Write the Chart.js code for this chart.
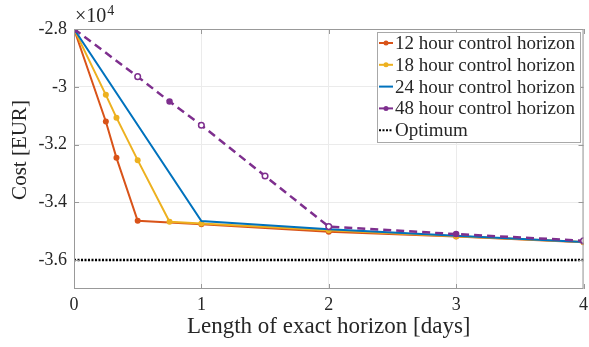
<!DOCTYPE html>
<html>
<head>
<meta charset="utf-8">
<script src="https://cdn.jsdelivr.net/npm/chart.js@4"></script>
<style>
  html, body { margin: 0; padding: 0; background: #fff; }
  #wrap { width: 589px; height: 347px; }
</style>
</head>
<body>
<div id="wrap"><canvas id="c" width="589" height="347"></canvas></div>
<script>
// Exact horizon length [days] and cost [EUR]
const x12 = [0, 0.25, 1 / 3, 0.5, 1, 2, 3, 4];
const y12 = [-28000, -31200, -32460, -34640, -34760, -35020, -35180, -35380];

const x18 = [0, 0.25, 1 / 3, 0.5, 0.75, 1, 2, 3, 4];
const y18 = [-28000, -30280, -31070, -32540, -34670, -34730, -34970, -35170, -35370];

const x24 = [0, 1, 2, 3, 4];
const y24 = [-28000, -34650, -34930, -35160, -35370];

const x48 = [0, 0.5, 0.75, 1, 1.5, 2, 3, 4];
const y48 = [-28000, -29650, -30510, -31330, -33090, -34840, -35100, -35330];

const xOpt = [0, 4];
const yOpt = [-36000, -36000];

const seriesNames = ['12 hour control horizon', '18 hour control horizon',
  '24 hour control horizon', '48 hour control horizon', 'Optimum'];
const yTicks = [-36000, -34000, -32000, -30000, -28000];

// marker fill of the 48 hour series (true = filled dot, false = open circle)
const fill48 = [true, false, true, false, false, false, true, false];

const SERIF = '"Liberation Serif", "DejaVu Serif", serif';
const GRAY = '#999999';
const TXT = '#262626';

function pts(xs, ys) {
  return xs.map((x, i) => ({ x: x, y: ys[i] }));
}

// Draws the MATLAB style box, inner ticks, y label, exponent and legend
const decor = {
  id: 'decor',
  afterDraw(chart) {
    const ctx = chart.ctx;
    const a = chart.chartArea;
    const xs = chart.scales.x, ys = chart.scales.y;
    ctx.save();
    ctx.strokeStyle = GRAY;
    ctx.lineWidth = 1;
    ctx.strokeRect(a.left + 0.5, a.top + 0.5, a.right - a.left - 1, a.bottom - a.top - 1);
    ctx.beginPath();
    for (let v = 0; v <= 4; v++) {
      let px = Math.round(xs.getPixelForValue(v)) + 0.5;
      ctx.moveTo(px, a.bottom); ctx.lineTo(px, a.bottom - 5);
      ctx.moveTo(px, a.top); ctx.lineTo(px, a.top + 5);
    }
    for (let v of yTicks) {
      let py = Math.round(ys.getPixelForValue(v)) + 0.5;
      ctx.moveTo(a.left, py); ctx.lineTo(a.left + 5, py);
      ctx.moveTo(a.right, py); ctx.lineTo(a.right - 5, py);
    }
    ctx.stroke();

    // y axis label
    ctx.save();
    ctx.translate(20, 150);
    ctx.rotate(-Math.PI / 2);
    ctx.fillStyle = TXT;
    ctx.font = '21px ' + SERIF;
    ctx.textAlign = 'center';
    ctx.textBaseline = 'middle';
    ctx.fillText('Cost [EUR]', 0, 0);
    ctx.restore();

    // exponent
    ctx.fillStyle = TXT;
    ctx.textBaseline = 'alphabetic';
    ctx.textAlign = 'left';
    ctx.font = '20px ' + SERIF;
    ctx.fillText('\u00d710', a.left + 1, 22);
    let w = ctx.measureText('\u00d710').width;
    ctx.font = '14px ' + SERIF;
    ctx.fillText('4', a.left + 2 + w, 15);

    // legend
    const lx = 377, ly = 32, lw = 204, lh = 111;
    ctx.fillStyle = '#ffffff';
    ctx.fillRect(lx, ly, lw, lh);
    ctx.strokeStyle = '#a8a8a8';
    ctx.strokeRect(lx + 0.5, ly + 0.5, lw - 1, lh - 1);
    ctx.font = '19px ' + SERIF;
    ctx.textBaseline = 'middle';
    chart.data.datasets.forEach((ds, i) => {
      const ry = 43 + i * 21.8;
      ctx.save();
      ctx.strokeStyle = ds.borderColor;
      ctx.lineWidth = 2;
      ctx.setLineDash(i === 4 ? [2, 1.5] : []);
      ctx.beginPath();
      ctx.moveTo(379, ry); ctx.lineTo(393, ry);
      ctx.stroke();
      if (i !== 2 && i !== 4) {
        ctx.fillStyle = ds.borderColor;
        ctx.beginPath();
        ctx.arc(386, ry, 2.5, 0, Math.PI * 2);
        ctx.fill();
      }
      ctx.restore();
      ctx.fillStyle = TXT;
      ctx.fillText(seriesNames[i], 395, ry + 1);
    });
    ctx.restore();
  }
};

new Chart(document.getElementById('c'), {
  type: 'line',
  data: {
    datasets: [
      {
        data: pts(x12, y12), borderColor: '#D95319', backgroundColor: '#D95319',
        borderWidth: 2, pointRadius: 3, pointBorderWidth: 0, order: 4
      },
      {
        data: pts(x18, y18), borderColor: '#EDB120', backgroundColor: '#EDB120',
        borderWidth: 2, pointRadius: 3, pointBorderWidth: 0, order: 3
      },
      {
        data: pts(x24, y24), borderColor: '#0072BD', backgroundColor: '#0072BD',
        borderWidth: 2, pointRadius: 0, order: 2
      },
      {
        data: pts(x48, y48), borderColor: '#7E2F8E',
        pointBackgroundColor: fill48.map(f => f ? '#7E2F8E' : '#ffffff'),
        pointBorderColor: '#7E2F8E',
        pointRadius: fill48.map((f, i) => i === 0 ? 3.5 : (f ? 2.5 : 2.8)),
        pointBorderWidth: 1.5,
        borderWidth: 2.5, borderDash: [8, 5], order: 1
      },
      {
        data: pts(xOpt, yOpt), borderColor: '#000000',
        borderWidth: 2.5, borderDash: [2, 1.5], pointRadius: 0, order: 0
      }
    ]
  },
  options: {
    responsive: false,
    animation: false,
    devicePixelRatio: 1,
    layout: { padding: { top: 29, right: 5, left: 0, bottom: 0 } },
    plugins: { legend: { display: false }, tooltip: { enabled: false } },
    elements: { line: { tension: 0 } },
    scales: {
      x: {
        type: 'linear', min: 0, max: 4,
        ticks: { stepSize: 1, padding: 5, color: TXT, font: { family: SERIF, size: 18 } },
        grid: { color: '#ebebeb', drawTicks: false },
        border: { display: false },
        title: { display: true, text: 'Length of exact horizon [days]', color: TXT,
          font: { family: SERIF, size: 23 }, padding: { top: 0, bottom: 6 } },
        afterFit(s) { s.height = 58; s.paddingLeft = 0; s.paddingRight = 0; }
      },
      y: {
        type: 'linear', min: -37000, max: -28000,
        afterBuildTicks(s) { s.ticks = yTicks.map(v => ({ value: v })); },
        ticks: { padding: 7, color: TXT, font: { family: SERIF, size: 18 },
          callback: v => String(Math.round(v / 100) / 100) },
        grid: { color: '#ebebeb', drawTicks: false },
        border: { display: false },
        afterFit(s) { s.width = 74; s.paddingTop = 0; s.paddingBottom = 0; }
      }
    }
  },
  plugins: [decor]
});
</script>
</body>
</html>
